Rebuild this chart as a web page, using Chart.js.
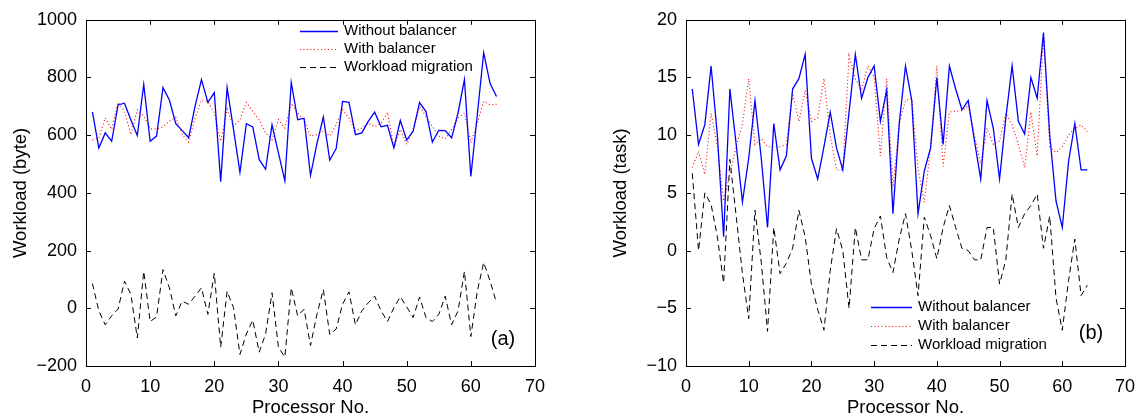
<!DOCTYPE html>
<html>
<head>
<meta charset="utf-8">
<script src="https://cdn.jsdelivr.net/npm/chart.js@4/dist/chart.umd.min.js"></script>
<style>
  html,body{margin:0;padding:0;background:#fff;}
  #wrap{position:relative;width:1145px;height:419px;}
  .panel{position:absolute;top:0;}
</style>
</head>
<body>
<div id="wrap">
  <div class="panel" style="left:0"><canvas id="chartA" width="560" height="419"></canvas></div>
  <div class="panel" style="left:600px"><canvas id="chartB" width="545" height="419"></canvas></div>
</div>
<script>
const processors = [1,2,3,4,5,6,7,8,9,10,11,12,13,14,15,16,17,18,19,20,21,22,23,24,25,26,27,28,29,30,31,32,
  33,34,35,36,37,38,39,40,41,42,43,44,45,46,47,48,49,50,51,52,53,54,55,56,57,58,59,60,61,62,63,64];

// (a) workload in bytes
const byteWithout = [681,556,608,579,705,711,653,599,776,579,597,765,722,640,616,591,700,793,714,747,439,765,620,471,640,629,516,482,636,539,442,783,
  654,659,461,570,663,514,554,717,714,602,608,648,680,629,634,556,651,583,614,713,682,576,617,616,591,677,793,457,670,886,779,734];
const byteWith = [583,590,660,620,714,683,602,688,666,622,622,629,649,662,602,576,659,722,717,677,579,690,631,654,714,682,654,608,585,654,625,711,
  677,653,597,602,614,597,636,688,659,614,625,642,629,642,679,560,620,568,620,700,665,631,597,587,620,659,677,574,642,717,705,707];
const byteMigration = [86,-9,-57,-26,-3,94,48,-103,128,-46,-30,134,71,-26,25,14,42,71,-21,122,-135,59,2,-160,-89,-41,-152,-89,54,-135,-169,71,
  -26,-3,-129,-21,65,-91,-72,14,57,-57,-9,19,42,-9,-46,2,40,5,-32,39,-32,-46,-21,42,-57,-9,128,-98,59,159,94,19];

// (b) workload in tasks
const taskWithout = [14,9.2,10.9,16,10,1.2,14,9.2,4.2,8,13,8,2,11,7,8.2,14,14.9,17,8,6.2,9,12,8.9,7,12,17,13.2,15,16,11.2,13.9,
  3.2,11,16,13,3.2,6.9,8.9,15,9.2,16,14,12.2,13,9.5,6.2,13,10.6,6.2,11.5,16,11.2,10.1,15,13.2,18.9,10,4.3,2,7.7,11,7,7];
const taskWith = [7.2,8.6,6.6,11.9,9,4.3,6.6,9,11,14.9,9.2,9.7,9,9,9,9.2,13.6,11.2,13.9,11.2,11.5,14.9,10,7,7,16.9,14.9,13.9,16,15,8.2,14.9,
  5.5,11,13,13.2,7.1,4.2,8.9,16,7.3,12,12.1,12.1,12.6,10,7.5,10.6,9.2,9.5,11.9,10.9,9.2,7.2,12,8.2,18.7,9,8.5,9,10,10.6,10.9,10.3];
const taskMigration = [6.7,0,5,4,1.2,-2.8,7.9,3,-2,-5.9,3.5,-1,-7,2,-2,-1.1,0.2,3.5,1.2,-2.9,-5.1,-6.9,-1.7,1.9,0,-5,2,-0.8,-0.8,1.9,3,-0.6,
  -1.9,1,3.2,0,-3.9,2.9,1.3,-0.7,2,3.9,2,0.2,0,-0.8,-0.8,2,2,-2.9,-0.8,4.9,2,3.2,3.9,4.9,0.2,3,-4.1,-6.9,-2.6,1,-3.9,-3];

const seriesNames = ['Without balancer','With balancer','Workload migration'];
const xTicks = [0,70,10];

const FONT = 'Arial, "Liberation Sans", sans-serif';

function pts(vals){
  return vals.map((v,i)=>({x:processors[i],y:v}));
}

function minusLabel(v){
  return v<0 ? '\u2212'+Math.abs(v) : ''+v;
}

// matlab style box with inward ticks on all sides + legend + panel tag
const boxPlugin = {
  id:'matBox',
  afterDraw(chart,args,opts){
    const {ctx,chartArea:a,scales} = chart;
    ctx.save();
    ctx.strokeStyle='#000';
    ctx.lineWidth=1;
    ctx.strokeRect(Math.round(a.left)+0.5,Math.round(a.top)+0.5,Math.round(a.right-a.left),Math.round(a.bottom-a.top));
    const tl=5;
    ctx.beginPath();
    scales.x.ticks.forEach(t=>{
      const px=Math.round(scales.x.getPixelForValue(t.value))+0.5;
      ctx.moveTo(px,a.bottom);ctx.lineTo(px,a.bottom-tl);
      ctx.moveTo(px,a.top);ctx.lineTo(px,a.top+tl);
    });
    scales.y.ticks.forEach(t=>{
      const py=Math.round(scales.y.getPixelForValue(t.value))+0.5;
      ctx.moveTo(a.left,py);ctx.lineTo(a.left+tl,py);
      ctx.moveTo(a.right,py);ctx.lineTo(a.right-tl,py);
    });
    ctx.stroke();

    // legend
    const lg=opts.legend;
    ctx.font='15px '+FONT;
    ctx.textBaseline='middle';
    ctx.textAlign='left';
    chart.data.datasets.forEach((ds,i)=>{
      const y=lg.y+i*lg.row;
      ctx.beginPath();
      ctx.strokeStyle=ds.borderColor;
      ctx.lineWidth=ds.borderWidth;
      ctx.setLineDash(ds.borderDash||[]);
      ctx.moveTo(lg.x,y+0.5);ctx.lineTo(lg.x+lg.len,y+0.5);
      ctx.stroke();
      ctx.setLineDash([]);
      ctx.fillStyle='#000';
      ctx.fillText(ds.label,lg.x+lg.len+6,y);
    });

    // panel tag
    ctx.font='20px '+FONT;
    ctx.textAlign='center';
    ctx.fillText(opts.tag,a.right-opts.tagDx,opts.tagY);
    ctx.restore();
  }
};

function buildPanel(id,yTitle,yMin,yMax,yStep,without,withB,migration,padRight,extra){
  const ctx=document.getElementById(id);
  return new Chart(ctx,{
    type:'line',
    data:{
      datasets:[
        {label:seriesNames[0],data:pts(without),borderColor:'#0000ff',borderWidth:1.3,pointRadius:0,tension:0,fill:false},
        {label:seriesNames[1],data:pts(withB),borderColor:'#ff0000',borderWidth:1.1,borderDash:[1,2.5],pointRadius:0,tension:0,fill:false},
        {label:seriesNames[2],data:pts(migration),borderColor:'#000000',borderWidth:1,borderDash:[6,4],pointRadius:0,tension:0,fill:false}
      ]
    },
    options:{
      responsive:false,
      animation:false,
      layout:{padding:{left:0,right:padRight,top:16,bottom:0}},
      plugins:{legend:{display:false},tooltip:{enabled:false},matBox:extra},
      scales:{
        x:{
          type:'linear',min:xTicks[0],max:xTicks[1],
          ticks:{stepSize:xTicks[2],color:'#000',font:{family:FONT,size:18},padding:10,maxRotation:0},
          grid:{display:false,drawTicks:false},
          border:{display:false},
          title:{display:true,text:'Processor No.',color:'#000',font:{family:FONT,size:18.5},padding:{top:0,bottom:0}},
          afterFit(s){s.height=53;}
        },
        y:{
          min:yMin,max:yMax,
          ticks:{stepSize:yStep,color:'#000',font:{family:FONT,size:18},padding:9,callback:minusLabel},
          grid:{display:false,drawTicks:false},
          border:{display:false},
          title:{display:true,text:yTitle,color:'#000',font:{family:FONT,size:18.5},padding:{top:10,bottom:0}},
          afterFit(s){s.width=86;}
        }
      }
    },
    plugins:[boxPlugin]
  });
}

buildPanel('chartA','Workload (byte)',-200,1000,200,byteWithout,byteWith,byteMigration,25,
  {legend:{x:300,y:31,row:18,len:38},tag:'(a)',tagDx:32,tagY:339});
buildPanel('chartB','Workload (task)',-10,20,5,taskWithout,taskWith,taskMigration,8,
  {legend:{x:271,y:307,row:19,len:41},tag:'(b)',tagDx:34,tagY:333});
</script>
</body>
</html>
